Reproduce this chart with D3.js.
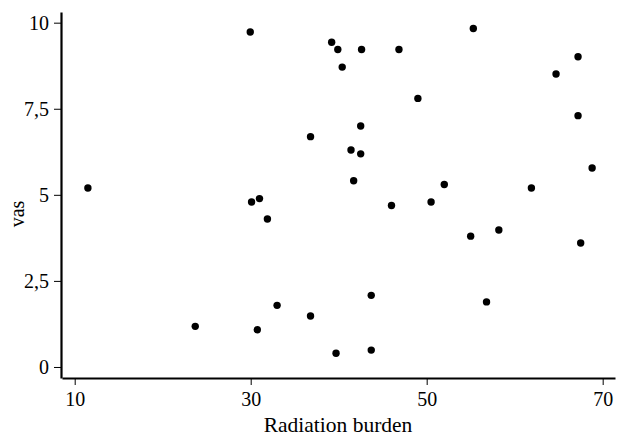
<!DOCTYPE html>
<html>
<head>
<meta charset="utf-8">
<script src="https://cdn.jsdelivr.net/npm/d3@7/dist/d3.min.js"></script>
<style>
  html, body { margin: 0; padding: 0; background: #fff; }
  svg { display: block; }
  text { font-family: "Liberation Serif", "Times New Roman", serif; fill: #000; }
</style>
</head>
<body>
<svg id="chart" width="618" height="436"></svg>
<script>
const radiationBurden = [11.5, 29.95, 39.2, 39.9, 42.6, 40.4, 46.85, 49.0, 55.3, 67.2, 64.7, 67.2, 68.8, 52.0, 61.9, 42.5, 36.8, 41.4, 42.5, 41.7, 30.1, 31.0, 31.9, 46.0, 50.5, 55.0, 58.2, 67.5, 56.8, 33.0, 36.8, 23.7, 30.75, 43.7, 39.7, 43.7];
const vas = [5.2, 9.73, 9.43, 9.22, 9.22, 8.71, 9.22, 7.8, 9.83, 9.01, 8.51, 7.3, 5.78, 5.3, 5.2, 7.0, 6.69, 6.3, 6.19, 5.41, 4.79, 4.89, 4.3, 4.69, 4.79, 3.8, 3.98, 3.6, 1.89, 1.79, 1.48, 1.18, 1.08, 2.08, 0.4, 0.49];
const xTicks = [10, 30, 50, 70];
const yTicks = [0, 2.5, 5, 7.5, 10];
const yTickLabels = ["0", "2,5", "5", "7,5", "10"];
const xTitle = "Radiation burden";
const yTitle = "vas";

const svg = d3.select("#chart");
const x = d3.scaleLinear().domain([8.557, 71.4]).range([62, 615]);
const y = d3.scaleLinear().domain([-0.32, 10.31]).range([378, 12]);

const xAxis = svg.append("g")
  .attr("transform", "translate(0,378)")
  .call(d3.axisBottom(x).tickValues(xTicks).tickFormat(d3.format("d")).tickSize(7).tickPadding(7).tickSizeOuter(0));
const yAxis = svg.append("g")
  .attr("transform", "translate(61,0)")
  .call(d3.axisLeft(y).tickValues(yTicks).tickFormat((d, i) => yTickLabels[i]).tickSize(7).tickPadding(5).tickSizeOuter(0));

[xAxis, yAxis].forEach(g => {
  g.select(".domain").attr("stroke", "#000").attr("stroke-width", 2.2);
  g.selectAll(".tick line").attr("stroke", "#000").attr("stroke-width", 1);
  g.selectAll(".tick text").style("font-size", "20px").style("font-family", '"Liberation Serif", serif').attr("fill", "#000");
});

svg.append("g").selectAll("circle")
  .data(radiationBurden.map((d, i) => [d, vas[i]]))
  .join("circle")
  .attr("cx", d => x(d[0]))
  .attr("cy", d => y(d[1]))
  .attr("r", 3.7)
  .attr("fill", "#000");

svg.append("text")
  .attr("x", 338).attr("y", 432)
  .attr("text-anchor", "middle")
  .style("font-size", "21.5px")
  .text(xTitle);

svg.append("text")
  .attr("transform", "translate(24,214) rotate(-90)")
  .attr("text-anchor", "middle")
  .style("font-size", "20px")
  .text(yTitle);
</script>
</body>
</html>
